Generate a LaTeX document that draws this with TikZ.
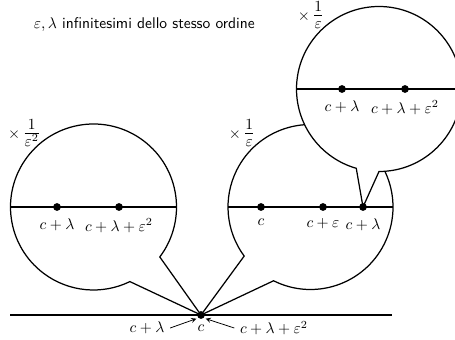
\documentclass[tikz,border=0pt]{standalone}
\usepackage{amsmath,amssymb}
\renewcommand{\familydefault}{\sfdefault}
\usepackage{tikz}
\newcommand{\zoomfat}[1]{$\times$\,{\Large$\frac{1}{#1}$}}

\begin{document}
\begin{tikzpicture}[x=0.645pt,y=0.645pt,line width=0.8pt,
    dot/.style={circle,fill,inner sep=0pt,minimum size=5pt},
    lupa/.style={draw,fill=white}]
  \useasboundingbox (0,0) rectangle (455,339);
  \node[anchor=west] (titolo) at (28,314) {$\varepsilon,\lambda$ infinitesimi dello stesso ordine};
  % retta reale
  \coordinate (r0) at (10,24);
  \coordinate (r1) at (392,24);
  \draw (r0) -- (r1);
  \node[dot] (c) at (201,24) {};
  \node[below=0pt] (cl) at (c.south) {$c$};
  \node (sx) at (147,11) {$c+\lambda$};
  \node (dx) at (274,11) {$c+\lambda+\varepsilon^2$};
  \draw[-stealth,line width=0.5pt,shorten >=1pt] (sx.east) -- (c.south west);
  \draw[-stealth,line width=0.5pt,shorten >=1pt] (dx.west) -- (c.south east);
  % lente sinistra
  \path[lupa] (93.5,132) ++(-37:83) arc[start angle=-37,end angle=296,radius=83] -- (c.center) -- cycle;
  \coordinate (a0) at (10.5,132);
  \coordinate (a1) at (176.5,132);
  \draw (a0) -- (a1);
  \node[dot,label={[label distance=1pt]below:$c+\lambda$}] (a2) at (57,132) {};
  \node[dot,label={[label distance=1pt]below:$c+\lambda+\varepsilon^2$}] (a3) at (119,132) {};
  \node[inner sep=0pt] (za) at (24.5,206) {\zoomfat{\varepsilon^2}};
  % lente centrale
  \path[lupa] (310.5,132) ++(243.4:82.5) arc[start angle=243.4,end angle=576.5,radius=82.5] -- (c.center) -- cycle;
  \coordinate (b0) at (228,132);
  \coordinate (b1) at (393,132);
  \draw (b0) -- (b1);
  \node[dot,label={[label distance=1pt]below:$c$}] (b2) at (261,132) {};
  \node[dot,label={[label distance=1pt]below:$c+\varepsilon$}] (b3) at (323,132) {};
  \coordinate (b4) at (363,132);
  \node[inner sep=0pt] (zb) at (242,206) {\zoomfat{\varepsilon}};
  % lente in alto
  \path[lupa] (379,250) ++(270:82.5) arc[start angle=270,end angle=614,radius=82.5] -- (b4) -- cycle;
  \node[dot,label={[label distance=1pt]below:$c+\lambda$}] (b5) at (b4) {};
  \coordinate (t0) at (296.5,250);
  \coordinate (t1) at (461.5,250);
  \draw (t0) -- (t1);
  \node[dot,label={[label distance=1pt]below:$c+\lambda$}] (t2) at (342,250) {};
  \node[dot,label={[label distance=1pt]below:$c+\lambda+\varepsilon^2$}] (t3) at (405,250) {};
  \node[inner sep=0pt] (zt) at (311,324) {\zoomfat{\varepsilon}};
\end{tikzpicture}
\end{document}
